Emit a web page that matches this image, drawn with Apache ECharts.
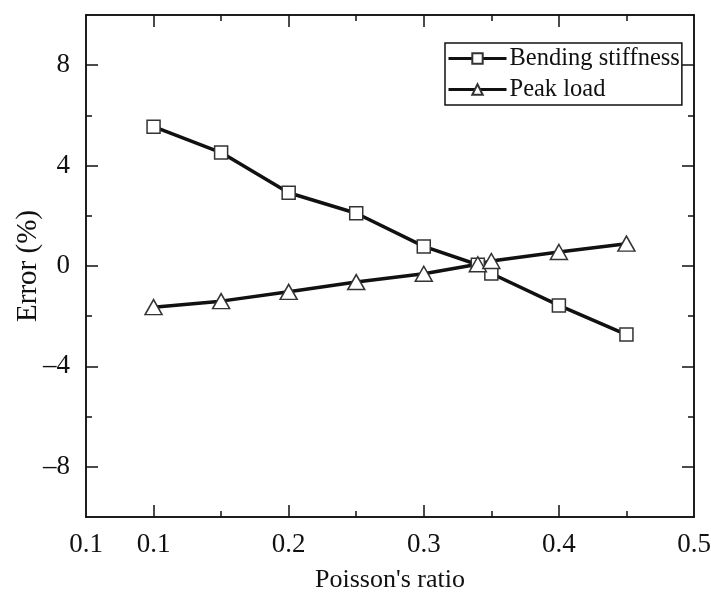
<!DOCTYPE html>
<html>
<head>
<meta charset="utf-8">
<script src="https://cdn.jsdelivr.net/npm/echarts@6/dist/echarts.min.js"></script>
<style>
  html, body { margin: 0; padding: 0; background: #fff; }
  #box { width: 711px; height: 592px; }
</style>
</head>
<body>
<div id="box"></div>
<script>
// data
const poisson = [0.1, 0.15, 0.2, 0.25, 0.3, 0.34, 0.35, 0.4, 0.45];
const bending = [5.55, 4.52, 2.92, 2.1, 0.78, 0.05, -0.3, -1.57, -2.73];
const peakLoad = [-1.64, -1.4, -1.03, -0.64, -0.31, 0.07, 0.2, 0.56, 0.89];

// ticks / labels
const xLabels = [0.05, 0.1, 0.2, 0.3, 0.4, 0.5];
const xMajor = [0.1, 0.2, 0.3, 0.4];
const xMinor = [0.15, 0.25, 0.35, 0.45];
const yLabels = [-8, -4, 0, 4, 8];
const yMinor = [-6, -2, 2, 6];

const font = "Liberation Serif";
const black = "#111";

// 把一根轴的公共配置抽出来
function axis(pos, isX, ticks, len, opts) {
  return Object.assign({
    type: "value",
    position: pos,
    min: isX ? 0.05 : -10,
    max: isX ? 0.5 : 10,
    splitLine: { show: false },
    axisLine: { show: true, onZero: false, lineStyle: { color: black, width: 1.5 } },
    axisTick: { show: true, inside: true, length: len, customValues: ticks, lineStyle: { color: black, width: 1.5 } },
    axisLabel: { show: false },
  }, opts || {});
}

const chart = echarts.init(document.getElementById("box"));

const option = {
  backgroundColor: "#fff",
  animation: false,
  grid: { left: 86, right: 17, top: 15, bottom: 75, outerBoundsMode: "none", containLabel: false },
  legend: {
    orient: "vertical",
    left: 445,
    top: 43,
    itemWidth: 58,
    itemHeight: 13,
    itemGap: 6,
    padding: [3, 2, 3, 2],
    borderColor: black,
    borderWidth: 1.5,
    lineStyle: { width: 3 },
    textStyle: { fontFamily: font, fontSize: 24.5, color: black, padding: [0, 0, 0, -2] },
    data: ["Bending stiffness", "Peak load"],
  },
  xAxis: [
    axis("bottom", true, xMajor, 12, {
      name: "Poisson's ratio",
      nameLocation: "middle",
      nameGap: 50,
      nameMoveOverlap: false,
      nameTextStyle: { fontFamily: font, fontSize: 26, color: black },
      axisLabel: {
        show: true,
        customValues: xLabels,
        margin: 14,
        fontFamily: font,
        fontSize: 27,
        color: black,
        formatter: (v) => v.toFixed(1),
      },
    }),
    axis("bottom", true, xMinor, 6),
    axis("top", true, xMajor, 12),
    axis("top", true, xMinor, 6),
  ],
  yAxis: [
    axis("left", false, yLabels, 12, {
      name: "Error (%)",
      nameLocation: "middle",
      nameGap: 43,
      nameMoveOverlap: false,
      nameTextStyle: { fontFamily: font, fontSize: 29, color: black },
      axisLabel: {
        show: true,
        customValues: yLabels,
        margin: 16,
        fontFamily: font,
        fontSize: 27,
        color: black,
        formatter: (v) => String(v).replace("-", "\u2013"),
      },
    }),
    axis("left", false, yMinor, 6),
    axis("right", false, yLabels, 12),
    axis("right", false, yMinor, 6),
  ],
  series: [
    {
      name: "Bending stiffness",
      type: "line",
      data: poisson.map((x, i) => [x, bending[i]]),
      symbol: "rect",
      symbolSize: 13,
      lineStyle: { color: black, width: 3.5 },
      itemStyle: { color: "#fff", borderColor: "#333", borderWidth: 1.5 },
    },
    {
      name: "Peak load",
      type: "line",
      data: poisson.map((x, i) => [x, peakLoad[i]]),
      symbol: "triangle",
      symbolSize: [17, 15],
      lineStyle: { color: black, width: 3.5 },
      itemStyle: { color: "#fff", borderColor: "#333", borderWidth: 1.5 },
    },
  ],
};

chart.setOption(option);
</script>
</body>
</html>
